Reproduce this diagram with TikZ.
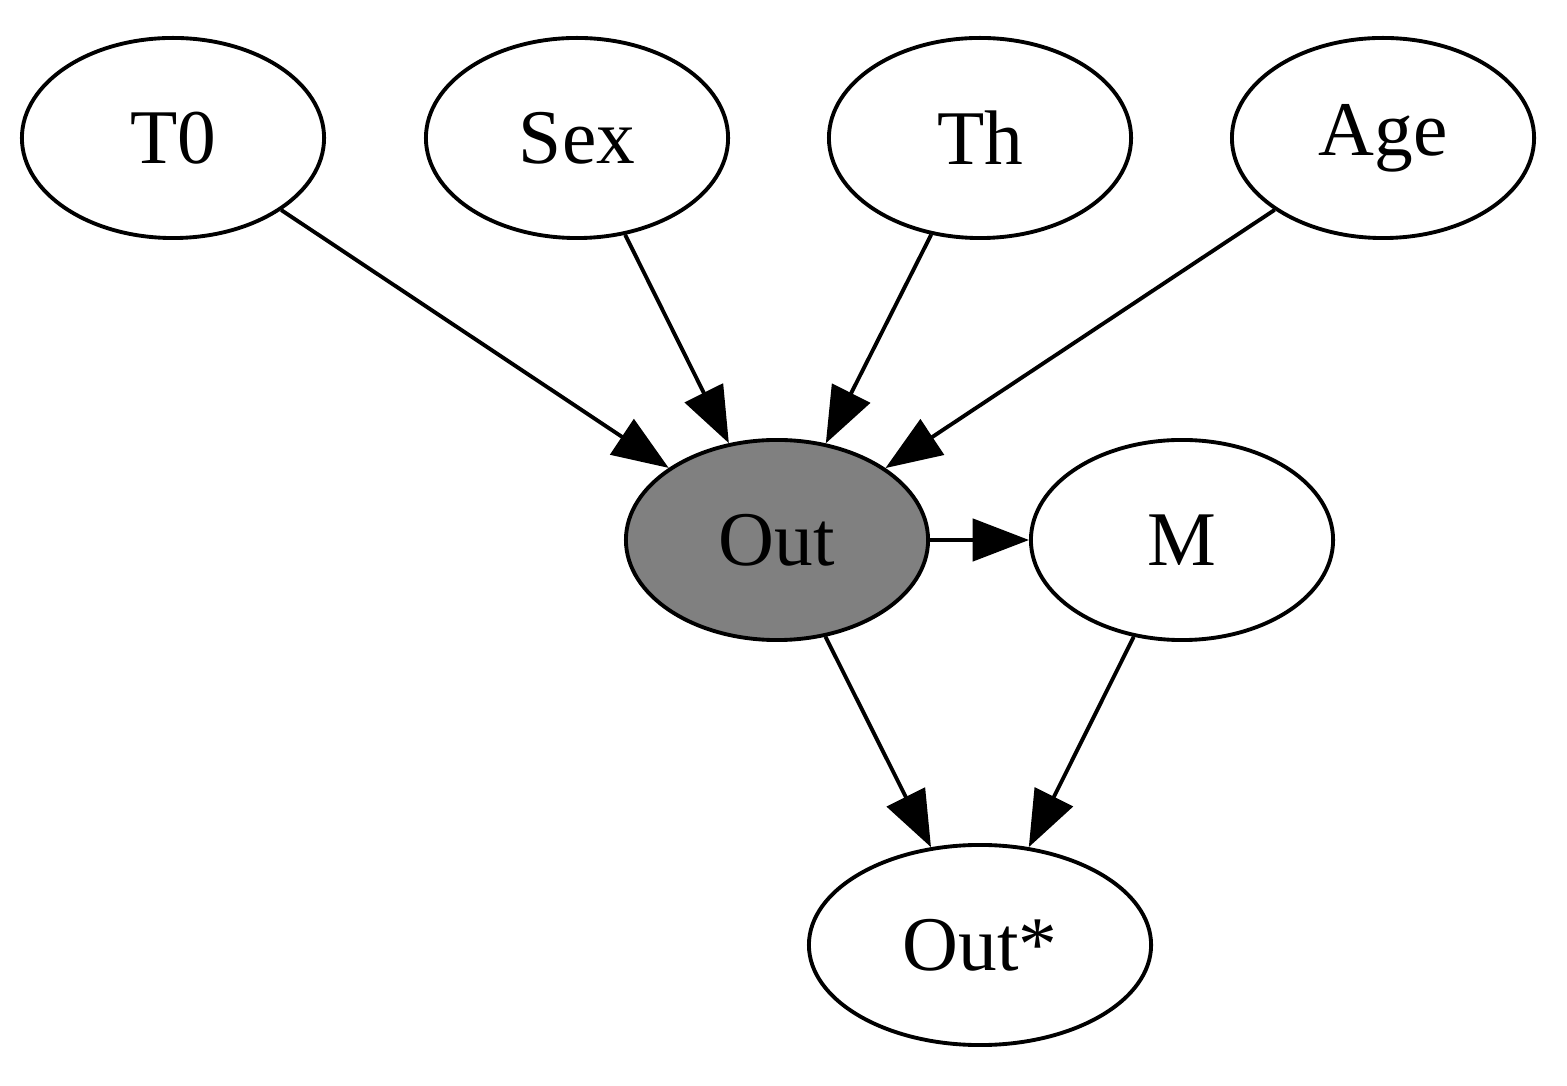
\documentclass[tikz,border=0pt]{standalone}
\usepackage{fontspec}
\setmainfont{Liberation Serif}
\usetikzlibrary{shapes.geometric,arrows.meta}
\begin{document}
\begin{tikzpicture}[x=0.01cm, y=-0.01cm,
    var/.style={ellipse, draw, line width=1.1pt, minimum width=3.02cm, minimum height=2cm, inner sep=0pt, font=\fontsize{22}{26}\selectfont},
    edge/.style={line width=1.1pt, -{Triangle[length=16pt, width=12pt]}}]
  \useasboundingbox (0,0) rectangle (1567,1086);
  \node[var] (t0) at (173,138) {T0};
  \node[var] (sex) at (577,138) {Sex};
  \node[var] (th) at (980,138) {Th};
  \node[var] (age) at (1383,138) {Age};
  \node[var, fill=gray] (out) at (777,540) {Out};
  \node[var] (m) at (1182,540) {M};
  \node[var, minimum width=3.42cm] (outs) at (980,945) {Out*};
  \draw[edge] (t0) -- (out);
  \draw[edge] (sex) -- (out);
  \draw[edge] (th) -- (out);
  \draw[edge] (age) -- (out);
  \draw[edge] (out) -- (m);
  \draw[edge] (out) -- (outs);
  \draw[edge] (m) -- (outs);
\end{tikzpicture}
\end{document}
